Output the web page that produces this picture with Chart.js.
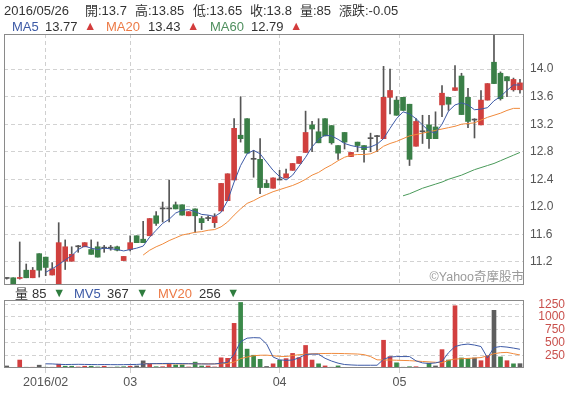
<!DOCTYPE html>
<html><head><meta charset="utf-8">
<script src="https://cdn.jsdelivr.net/npm/chart.js@4"></script>
<style>
html,body{margin:0;padding:0;background:#fff;}
#wrap{position:relative;width:565px;height:396px;overflow:hidden;font-family:'Liberation Sans',Arial,'Noto Sans CJK TC',sans-serif;color:#333;}
canvas{position:absolute;left:0;}
.t{position:absolute;white-space:nowrap;font-size:13px;line-height:15px;}
.b{color:#3d5aa6}.o{color:#ec7a46}.g{color:#4f8f5e}.ru{color:#d33c3c;font-size:12.5px}.gd{color:#2f7d3f;font-size:12.5px}
</style></head><body>
<div id="wrap">
<canvas id="pc" width="565" height="290" style="top:0"></canvas>
<canvas id="vc" width="565" height="111" style="top:285px"></canvas>
<span class="t" style="left:4px;top:3px">2016/05/26</span>
<span class="t" style="left:85px;top:3px">開:13.7</span>
<span class="t" style="left:135px;top:3px">高:13.85</span>
<span class="t" style="left:193px;top:3px">低:13.65</span>
<span class="t" style="left:250px;top:3px">收:13.8</span>
<span class="t" style="left:300px;top:3px">量:85</span>
<span class="t" style="left:339px;top:3px">漲跌:-0.05</span>
<span class="t b" style="left:12px;top:19px">MA5</span>
<span class="t" style="left:45px;top:19px">13.77</span>
<span class="t ru" style="left:84px;top:19px">▲</span>
<span class="t o" style="left:106px;top:19px">MA20</span>
<span class="t" style="left:148px;top:19px">13.43</span>
<span class="t ru" style="left:187px;top:19px">▲</span>
<span class="t g" style="left:210px;top:19px">MA60</span>
<span class="t" style="left:251px;top:19px">12.79</span>
<span class="t ru" style="left:290px;top:19px">▲</span>
<span class="t" style="right:41px;top:270px;color:#9a9a9a;font-size:12.5px">©Yahoo奇摩股市</span>
<span class="t" style="left:15px;top:286px">量</span>
<span class="t" style="left:32px;top:286px">85</span>
<span class="t gd" style="left:53px;top:286px">▼</span>
<span class="t b" style="left:74px;top:286px">MV5</span>
<span class="t" style="left:107px;top:286px">367</span>
<span class="t gd" style="left:136px;top:286px">▼</span>
<span class="t o" style="left:158px;top:286px">MV20</span>
<span class="t" style="left:199px;top:286px">256</span>
<span class="t gd" style="left:227px;top:286px">▼</span>
</div>
<script>
const monthLabels = ['2016/02', '03', '04', '05'];
const monthTickIdx = [6, 19, 42, 60.46];
const priceTicks = [11.2, 11.6, 12.0, 12.4, 12.8, 13.2, 13.6, 14.0];
const volTicks = [250, 500, 750, 1000, 1250];

const open = [10.96,10.97,10.96,11.08,10.97,11.32,11.27,11.01,10.87,11.21,
11.21,11.42,11.42,11.38,11.42,11.40,11.40,11.42,11.22,11.38,
11.58,11.53,11.58,11.87,11.97,11.97,12.03,12.03,11.87,11.97,
11.83,11.83,11.77,11.94,12.09,12.39,13.04,13.28,12.69,12.69,
12.34,12.27,12.39,12.42,12.53,12.63,12.79,13.19,13.09,13.28,
13.18,12.89,13.08,12.73,12.94,12.89,12.99,13.02,12.99,13.59,
13.55,13.59,13.49,12.88,13.09,13.19,13.16,13.48,13.59,13.69,
13.90,13.59,13.26,13.19,13.55,14.10,13.94,13.89,13.70,13.70];
const high = [10.97,10.97,11.49,11.17,11.12,11.32,11.27,11.19,11.77,11.52,
11.42,11.44,11.48,11.52,11.49,11.44,11.44,11.43,11.28,11.58,
11.58,11.79,11.83,11.93,12.07,12.39,12.07,12.03,11.93,11.97,
11.86,11.87,11.90,12.34,12.48,13.28,13.60,13.28,12.82,12.99,
12.39,12.42,12.53,12.55,12.63,12.73,13.39,13.24,13.28,13.28,
13.18,12.89,13.08,12.79,12.94,12.89,13.07,13.04,14.04,14.00,
13.60,13.59,13.49,13.28,13.33,13.33,13.38,13.76,13.59,14.05,
13.94,13.72,13.28,13.69,13.79,14.49,13.96,13.89,13.87,13.85];
const low = [10.95,10.87,10.95,10.97,10.97,10.98,11.00,11.01,10.87,11.09,
11.21,11.34,11.42,11.31,11.27,11.34,11.37,11.36,11.22,11.36,
11.48,11.48,11.58,11.73,11.78,11.78,11.97,11.88,11.87,11.63,
11.67,11.80,11.70,11.94,12.09,12.39,12.94,12.78,12.43,12.19,
12.28,12.27,12.39,12.42,12.53,12.63,12.79,12.80,12.93,13.03,
12.91,12.69,12.84,12.73,12.80,12.65,12.80,12.80,12.99,13.35,
13.33,13.40,12.60,12.88,12.92,12.85,12.99,13.31,13.40,13.69,
13.34,13.15,13.00,13.19,13.55,13.79,13.55,13.60,13.68,13.65];
const close = [10.96,10.87,10.97,10.97,11.08,11.08,11.12,11.10,11.48,11.42,
11.31,11.42,11.48,11.31,11.27,11.40,11.40,11.37,11.28,11.48,
11.48,11.48,11.83,11.76,11.97,11.97,11.97,11.88,11.93,11.87,
11.77,11.83,11.86,12.34,12.48,13.14,12.99,12.78,12.69,12.28,
12.28,12.42,12.39,12.48,12.63,12.73,13.08,13.13,12.93,13.03,
12.93,12.78,12.94,12.79,12.89,12.83,12.99,13.02,13.59,13.69,
13.33,13.40,12.69,13.24,13.09,12.99,12.99,13.65,13.49,13.73,
13.34,13.24,13.26,13.55,13.79,13.79,13.57,13.83,13.85,13.80];
const volume = [40,10,156,15,15,55,15,15,75,35,
35,20,35,35,20,35,15,20,25,35,
40,140,75,25,25,80,60,60,20,115,
40,40,20,200,190,875,1285,370,250,170,
30,82,150,184,286,204,442,156,82,41,
15,41,10,10,10,10,10,10,544,224,
102,15,25,25,10,95,40,360,156,1220,
197,184,197,143,238,1130,218,143,82,85];
const volDir = [0,-1,1,-1,1,0,-1,1,1,-1,
-1,1,1,-1,-1,1,0,-1,-1,1,
0,0,1,-1,1,1,-1,-1,1,-1,
-1,1,1,1,1,1,-1,-1,-1,-1,
0,1,-1,1,1,1,1,1,-1,1,
-1,-1,1,1,-1,-1,1,1,1,1,
-1,-1,-1,1,-1,-1,0,1,-1,1,
-1,-1,0,1,1,0,-1,1,-1,0];
const ma5 = [null,null,null,null,null,null,
11.05,11.10,11.16,11.23,11.29,11.38,11.43,11.40,11.38,11.40,
11.39,11.38,11.36,11.38,11.40,11.43,11.56,11.66,11.76,11.82,
11.91,11.95,11.96,11.93,11.89,11.88,11.86,11.92,12.09,12.36,
12.60,12.77,12.82,12.77,12.65,12.53,12.44,12.39,12.46,12.59,
12.72,12.87,12.98,13.04,13.03,12.98,12.92,12.89,12.87,12.86,
12.87,12.91,12.99,13.14,13.28,13.38,13.35,13.28,13.19,13.10,
13.07,13.20,13.39,13.48,13.51,13.48,13.41,13.42,13.44,13.54,
13.60,13.69,13.77,13.77];
const ma20 = [null,null,null,null,null,null,null,null,null,null,
null,null,null,null,null,null,null,null,null,null,null,
11.30,11.37,11.42,11.46,11.51,11.55,11.59,11.61,11.63,11.64,
11.66,11.67,11.71,11.78,11.88,11.97,12.05,12.09,12.14,12.18,
12.22,12.25,12.28,12.31,12.35,12.40,12.46,12.50,12.56,12.61,
12.67,12.72,12.75,12.76,12.76,12.77,12.81,12.88,12.92,12.95,
12.99,13.03,13.05,13.07,13.09,13.11,13.13,13.15,13.17,13.20,
13.21,13.22,13.26,13.30,13.33,13.36,13.40,13.43,13.43];
const ma60 = [null,null,null,null,null,null,null,null,null,null,
null,null,null,null,null,null,null,null,null,null,
null,null,null,null,null,null,null,null,null,null,
null,null,null,null,null,null,null,null,null,null,
null,null,null,null,null,null,null,null,null,null,
null,null,null,null,null,null,null,null,null,null,null,
12.16,12.19,12.23,12.27,12.30,12.33,12.36,12.40,12.43,12.46,
12.50,12.54,12.57,12.60,12.63,12.67,12.71,12.75,12.79];
const mv5 = [null,null,null,null,null,null,
82,80,72,68,70,72,70,68,66,68,
66,65,66,68,70,78,85,86,88,90,
88,86,84,82,80,78,80,95,110,270,
515,585,595,590,470,215,160,150,156,200,
265,272,270,190,136,95,68,60,54,54,
54,54,170,215,224,224,224,140,100,88,
100,130,300,420,455,469,450,421,200,400,
421,410,390,367];
const mv20 = [null,null,null,null,null,null,null,null,null,null,
null,null,null,null,null,null,null,null,null,null,null,
88,86,84,81,83,82,80,84,83,81,
82,80,84,90,116,184,215,240,250,252,
240,228,225,245,260,272,278,282,284,286,
285,282,278,274,262,224,160,158,156,152,
148,144,136,128,120,112,102,150,175,182,
188,195,204,240,280,300,306,280,256];

const RED = '#d0403e', GREEN = '#3a7f47', GRAY = '#555555';
const idx = close.map((_, i) => i);
const pts = arr => arr.map((v, i) => v == null ? null : {x: i, y: v}).filter(p => p);
const candleColor = i => close[i] > open[i] ? RED : (close[i] < open[i] ? GREEN : GRAY);
const volColor = d => d > 0 ? '#d23f3f' : (d < 0 ? '#3b8a4a' : '#5e5e5e');
const XMIN = -0.42, XMAX = 79.62;

Chart.defaults.font.family = "'Liberation Sans', Arial, 'Noto Sans CJK TC', sans-serif";

const frame = {
  id: 'frame',
  afterDraw(c) {
    const {ctx, chartArea: a} = c;
    ctx.save();
    ctx.strokeStyle = '#8a8a8a';
    ctx.lineWidth = 1;
    ctx.strokeRect(Math.round(a.left) + 0.5, Math.round(a.top) + 0.5,
      Math.round(a.right - a.left) - 1, Math.round(a.bottom - a.top) - 1);
    ctx.restore();
  }
};
const noPad = s => { s.paddingTop = 0; s.paddingBottom = 0; s.paddingLeft = 0; s.paddingRight = 0; };
const lineDs = (data, color) => ({type: 'line', data, borderColor: color, borderWidth: 1,
  pointRadius: 0, tension: 0, order: 0, fill: false});

new Chart(document.getElementById('pc'), {
  type: 'bar',
  data: {datasets: [
    lineDs(pts(ma5), '#3d5aa6'),
    lineDs(pts(ma20), '#f08a3c'),
    lineDs(pts(ma60), '#4a9a5a'),
    {type: 'bar', data: idx.map(i => ({x: i, y: [Math.min(open[i], close[i]), Math.max(open[i], close[i])]})),
      backgroundColor: ctx => candleColor(ctx.dataIndex), barThickness: 5, minBarLength: 1,
      grouped: false, order: 1, borderWidth: 0},
    {type: 'bar', data: idx.map(i => ({x: i, y: [low[i], high[i]]})),
      backgroundColor: '#555555', barThickness: 1, grouped: false, order: 2, borderWidth: 0}
  ]},
  options: {
    responsive: false, animation: false, devicePixelRatio: 1,
    layout: {padding: {left: 4, top: 34, right: 0, bottom: 5}},
    plugins: {legend: {display: false}, tooltip: {enabled: false}},
    scales: {
      x: {type: 'linear', min: XMIN, max: XMAX, offset: false,
        ticks: {display: false},
        grid: {color: '#cfcfcf', drawTicks: false, offset: false},
        border: {display: false, dash: [4, 3]},
        afterBuildTicks: s => { s.ticks = monthTickIdx.map(v => ({value: v})); },
        afterFit: s => { s.height = 0; noPad(s); }},
      y: {position: 'right', min: 10.865, max: 14.51, beginAtZero: false,
        ticks: {color: '#555', font: {size: 12}, padding: 6, autoSkip: false,
          callback: v => Number(v).toFixed(1)},
        grid: {color: '#d2d2d2', drawTicks: false},
        border: {display: false, dash: [4, 3]},
        afterBuildTicks: s => { s.ticks = priceTicks.map(v => ({value: v})); },
        afterFit: s => { s.width = 41; noPad(s); }}
    }
  },
  plugins: [frame]
});

new Chart(document.getElementById('vc'), {
  type: 'bar',
  data: {datasets: [
    lineDs(pts(mv5), '#3d5aa6'),
    lineDs(pts(mv20), '#f08a3c'),
    {type: 'bar', data: idx.map(i => ({x: i, y: volume[i]})),
      backgroundColor: ctx => volColor(volDir[ctx.dataIndex]), barThickness: 4,
      grouped: false, order: 1, borderWidth: 0}
  ]},
  options: {
    responsive: false, animation: false, devicePixelRatio: 1,
    layout: {padding: {left: 4, top: 15, right: 0, bottom: 0}},
    plugins: {legend: {display: false}, tooltip: {enabled: false}},
    scales: {
      x: {type: 'linear', min: XMIN, max: XMAX, offset: false,
        ticks: {color: '#555', font: {size: 12.5}, padding: 2, maxRotation: 0, autoSkip: false,
          callback: (v, i) => monthLabels[i]},
        grid: {color: '#cfcfcf', tickLength: 5, offset: false},
        border: {display: false, dash: [4, 3]},
        afterBuildTicks: s => { s.ticks = monthTickIdx.map(v => ({value: v})); },
        afterFit: s => { s.height = 28; noPad(s); }},
      y: {position: 'right', min: 0, max: 1333,
        ticks: {color: '#c9504c', font: {size: 12}, padding: 2, crossAlign: 'far', autoSkip: false,
          callback: v => String(Math.round(v))},
        grid: {color: '#d2d2d2', drawTicks: false},
        border: {display: false, dash: [4, 3]},
        afterBuildTicks: s => { s.ticks = volTicks.map(v => ({value: v})); },
        afterFit: s => { s.width = 41; noPad(s); }}
    }
  },
  plugins: [frame]
});
</script>
</body></html>
